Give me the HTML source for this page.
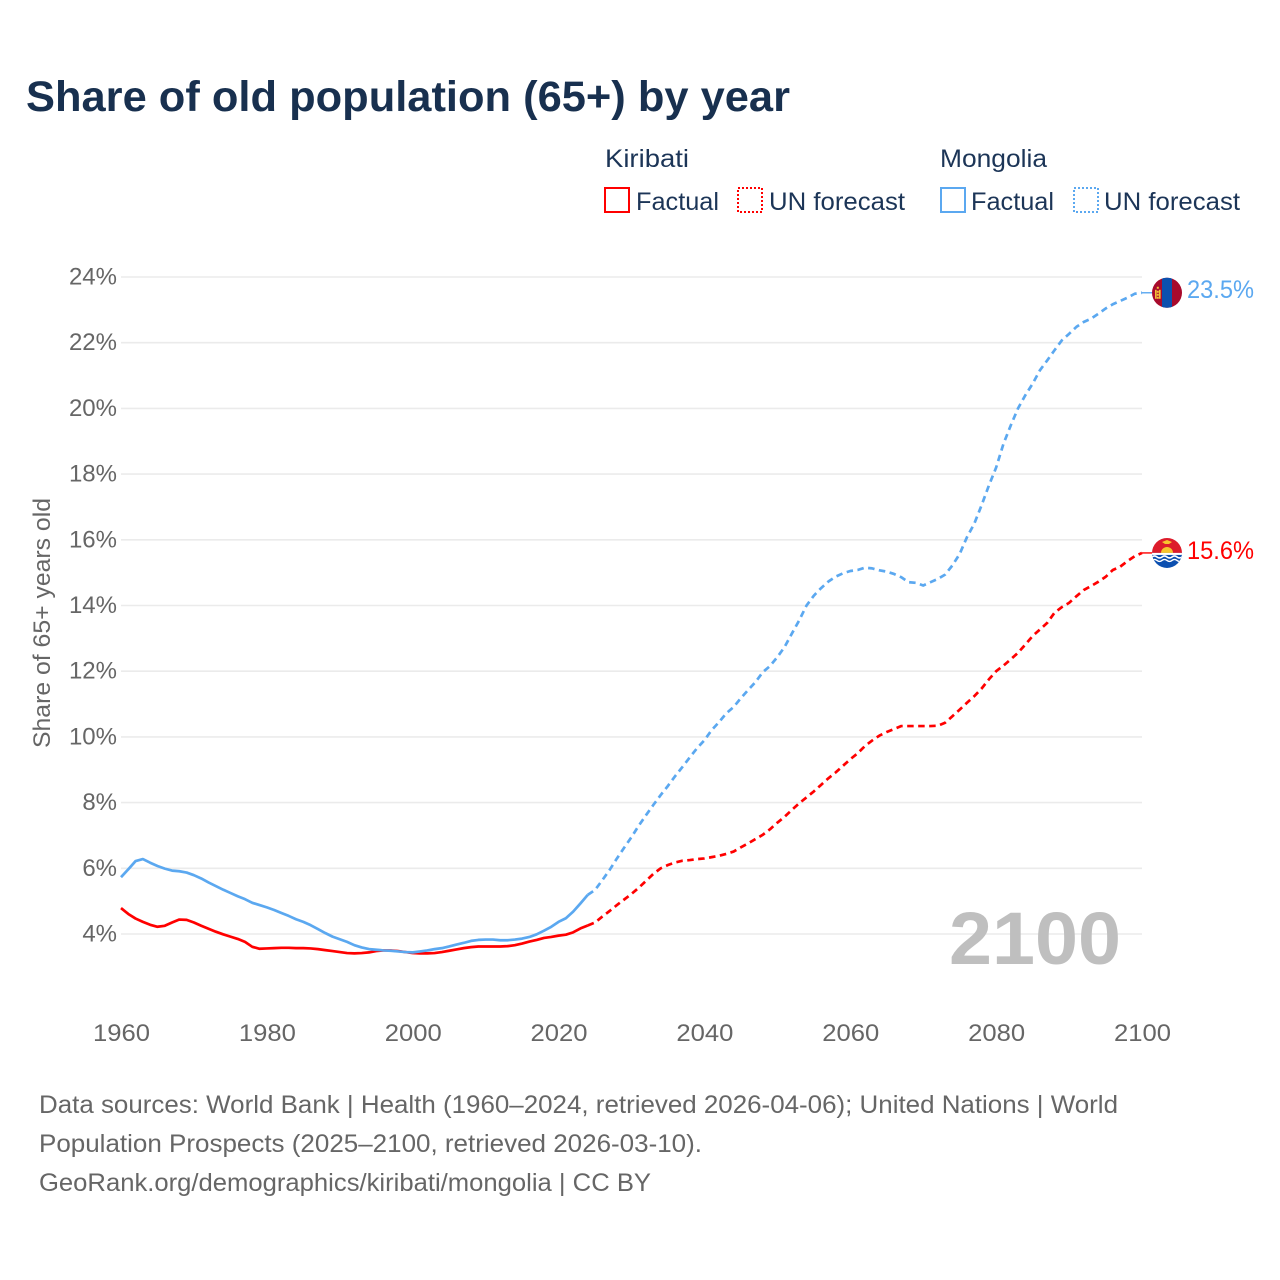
<!DOCTYPE html>
<html lang="en">
<head>
<meta charset="utf-8">
<title>Share of old population (65+) by year</title>
<style>
html,body{margin:0;padding:0;background:#fff;}
svg{display:block;font-family:"Liberation Sans",sans-serif;}
</style>
</head>
<body>
<svg id="chart" width="1280" height="1280" viewBox="0 0 1280 1280" xmlns="http://www.w3.org/2000/svg">
  <defs>
    <clipPath id="clip-mn"><circle cx="0" cy="0" r="15"/></clipPath>
    <clipPath id="clip-ki"><circle cx="0" cy="0" r="15"/></clipPath>
  </defs>
  <rect width="1280" height="1280" fill="#fff"/>
  <text x="26" y="111" font-size="43" font-weight="700" fill="#18304f" textLength="764" lengthAdjust="spacingAndGlyphs">Share of old population (65+) by year</text>

  <g font-size="25" fill="#1c3557">
    <text x="605" y="167" textLength="84" lengthAdjust="spacingAndGlyphs">Kiribati</text>
    <rect x="605" y="188" width="24" height="24" fill="none" stroke="#ff0000" stroke-width="2"/>
    <text x="636" y="210" textLength="83" lengthAdjust="spacingAndGlyphs">Factual</text>
    <rect x="738" y="188" width="24" height="24" fill="none" stroke="#ff0000" stroke-width="2" stroke-dasharray="2 2"/>
    <text x="769" y="210" textLength="136" lengthAdjust="spacingAndGlyphs">UN forecast</text>
    <text x="940" y="167" textLength="107" lengthAdjust="spacingAndGlyphs">Mongolia</text>
    <rect x="941" y="188" width="24" height="24" fill="none" stroke="#5ba8f0" stroke-width="2"/>
    <text x="971" y="210" textLength="83" lengthAdjust="spacingAndGlyphs">Factual</text>
    <rect x="1074" y="188" width="24" height="24" fill="none" stroke="#5ba8f0" stroke-width="2" stroke-dasharray="2 2"/>
    <text x="1104" y="210" textLength="136" lengthAdjust="spacingAndGlyphs">UN forecast</text>
  </g>

  <g id="grid"></g>
  <g id="y-ticks"></g>
  <g id="x-ticks"></g>
  <text transform="translate(50,623) rotate(-90)" text-anchor="middle" font-size="24" fill="#666" textLength="250" lengthAdjust="spacingAndGlyphs">Share of 65+ years old</text>

  <text x="949" y="964" font-size="74" font-weight="700" fill="#bfbfbf" textLength="172" lengthAdjust="spacingAndGlyphs">2100</text>

  <g id="series"></g>

  <g id="flag-mn">
    <g clip-path="url(#clip-mn)">
      <rect x="-15" y="-16" width="30" height="32" fill="#a80a2c"/>
      <rect x="-5" y="-16" width="10" height="32" fill="#0b50ae"/>
      <rect x="-12" y="-3" width="1.6" height="9" fill="#f2c037"/>
      <rect x="-8" y="-3" width="1.6" height="9" fill="#f2c037"/>
      <rect x="-10.2" y="-6" width="2" height="2" fill="#f2c037"/>
      <rect x="-10.2" y="-2" width="2" height="2" fill="#f2c037"/>
      <rect x="-10.2" y="1" width="2" height="2" fill="#f2c037"/>
      <rect x="-10.2" y="4" width="2" height="2" fill="#f2c037"/>
    </g>
  </g>
  <g id="flag-ki">
    <g clip-path="url(#clip-ki)">
      <rect x="-15" y="-16" width="30" height="16" fill="#dd1c2b"/>
      <path d="M-6 0 A6 6 0 0 1 6 0 Z" fill="#f7c52e"/>
      <path d="M-5 -11 L0 -13 L5 -11 L2 -9 L-2 -9 Z" fill="#f7c52e"/>
      <rect x="-15" y="0" width="30" height="16" fill="#0b4fb0"/>
      <rect x="-15" y="0" width="30" height="2" fill="#fff"/>
      <path d="M-15 4 q2.5 -2 5 0 t5 0 t5 0 t5 0 t5 0 t5 0" fill="none" stroke="#fff" stroke-width="1.6"/>
      <path d="M-15 7.5 q2.5 -2 5 0 t5 0 t5 0 t5 0 t5 0 t5 0" fill="none" stroke="#fff" stroke-width="1.4"/>
    </g>
  </g>
  <text id="label-mn" x="1187" font-size="25" fill="#5ba8f0" textLength="67" lengthAdjust="spacingAndGlyphs"></text>
  <text id="label-ki" x="1187" font-size="25" fill="#ff0000" textLength="67" lengthAdjust="spacingAndGlyphs"></text>

  <g font-size="25" fill="#666">
    <text x="39" y="1113" textLength="1079" lengthAdjust="spacingAndGlyphs">Data sources: World Bank | Health (1960–2024, retrieved 2026-04-06); United Nations | World</text>
    <text x="39" y="1152" textLength="663" lengthAdjust="spacingAndGlyphs">Population Prospects (2025–2100, retrieved 2026-03-10).</text>
    <text x="39" y="1191" textLength="612" lengthAdjust="spacingAndGlyphs">GeoRank.org/demographics/kiribati/mongolia | CC BY</text>
  </g>
</svg>
<script>
const yTickValues = [4, 6, 8, 10, 12, 14, 16, 18, 20, 22, 24];
const xTickValues = [1960, 1980, 2000, 2020, 2040, 2060, 2080, 2100];
const factualStartYear = 1960;
const forecastStartYear = 2024;

const kiribatiFactual = [4.79,4.61,4.47,4.37,4.28,4.22,4.25,4.35,4.44,4.43,
  4.35,4.25,4.16,4.07,3.99,3.92,3.85,3.76,3.61,3.55,
  3.56,3.57,3.58,3.58,3.57,3.57,3.56,3.54,3.51,3.48,
  3.45,3.42,3.41,3.42,3.44,3.48,3.50,3.50,3.48,3.45,
  3.42,3.41,3.41,3.42,3.45,3.49,3.53,3.57,3.60,3.62,
  3.62,3.62,3.62,3.63,3.66,3.71,3.77,3.82,3.88,3.91,
  3.95,3.98,4.05,4.17,4.26];

const mongoliaFactual = [5.73,5.97,6.22,6.28,6.17,6.07,5.99,5.93,5.91,5.87,
  5.79,5.69,5.57,5.46,5.35,5.25,5.15,5.06,4.95,4.88,
  4.81,4.73,4.64,4.55,4.45,4.37,4.27,4.15,4.03,3.92,
  3.84,3.76,3.66,3.59,3.54,3.52,3.50,3.49,3.47,3.45,
  3.44,3.47,3.50,3.54,3.57,3.62,3.68,3.73,3.79,3.82,
  3.83,3.83,3.81,3.81,3.83,3.86,3.91,3.99,4.10,4.22,
  4.37,4.48,4.68,4.93,5.19];

const kiribatiForecast = [4.26,4.35,4.53,4.70,4.88,5.05,5.22,5.41,5.62,5.83,6.00,
  6.10,6.18,6.23,6.25,6.28,6.30,6.34,6.38,6.44,6.51,
  6.64,6.76,6.89,7.02,7.19,7.39,7.57,7.78,7.98,8.16,
  8.34,8.54,8.74,8.92,9.12,9.32,9.50,9.72,9.89,10.04,
  10.15,10.24,10.33,10.33,10.33,10.33,10.33,10.34,10.43,10.63,
  10.83,11.04,11.24,11.47,11.75,12.00,12.17,12.36,12.56,12.81,
  13.07,13.27,13.47,13.78,13.95,14.08,14.28,14.47,14.59,14.72,
  14.87,15.08,15.18,15.35,15.50,15.60];

const mongoliaForecast = [5.19,5.34,5.64,5.95,6.30,6.63,6.95,7.30,7.62,7.93,8.23,
  8.51,8.81,9.09,9.38,9.66,9.90,10.21,10.45,10.72,10.91,
  11.18,11.43,11.67,11.97,12.16,12.43,12.74,13.15,13.55,14.00,
  14.30,14.53,14.73,14.88,14.98,15.05,15.08,15.15,15.13,15.07,
  15.03,14.96,14.86,14.71,14.69,14.61,14.71,14.81,14.94,15.22,
  15.57,16.08,16.49,17.05,17.65,18.20,18.92,19.48,20.00,20.40,
  20.75,21.16,21.46,21.77,22.07,22.27,22.48,22.63,22.73,22.88,
  23.04,23.17,23.27,23.37,23.49,23.52];

const NS = 'http://www.w3.org/2000/svg';
const RED = '#ff0000';
const BLUE = '#5ba8f0';
function xScale(year) { return 121 + (year - 1960) * (1142 - 121) / 140; }
function yScale(v) { return 934 - (v - 4) * (934 - 277) / 20; }
function toPoints(values, startYear) {
  return values.map(function (v, i) { return xScale(startYear + i).toFixed(2) + ',' + yScale(v).toFixed(2); }).join(' ');
}
function makeLine(values, startYear, color, dashed) {
  const el = document.createElementNS(NS, 'polyline');
  el.setAttribute('points', toPoints(values, startYear));
  el.setAttribute('fill', 'none');
  el.setAttribute('stroke', color);
  el.setAttribute('stroke-width', '2.7');
  el.setAttribute('stroke-linejoin', 'round');
  if (dashed) el.setAttribute('stroke-dasharray', '6.5 4.5');
  return el;
}

const grid = document.getElementById('grid');
const yTicks = document.getElementById('y-ticks');
yTickValues.forEach(function (v) {
  const line = document.createElementNS(NS, 'line');
  
  
  line.setAttribute('x1', xScale(1960));
  line.setAttribute('x2', xScale(2100));
  line.setAttribute('y1', yScale(v));
  line.setAttribute('y2', yScale(v));
  line.setAttribute('stroke', '#ebebeb');
  line.setAttribute('stroke-width', '1.6');
  grid.appendChild(line);
  const label = document.createElementNS(NS, 'text');
  
  
  label.setAttribute('x', 117);
  label.setAttribute('y', yScale(v) + 7.5);
  label.setAttribute('text-anchor', 'end');
  label.setAttribute('font-size', '24');
  label.setAttribute('fill', '#666');
  label.textContent = v + '%';
  yTicks.appendChild(label);
});

const xTicks = document.getElementById('x-ticks');
xTickValues.forEach(function (year) {
  const label = document.createElementNS(NS, 'text');
  
  
  label.setAttribute('x', xScale(year) + 0.5);
  label.setAttribute('y', 1041);
  label.setAttribute('text-anchor', 'middle');
  label.setAttribute('font-size', '24');
  label.setAttribute('fill', '#666');
  label.setAttribute('textLength', '57');
  label.setAttribute('lengthAdjust', 'spacingAndGlyphs');
  label.textContent = year;
  xTicks.appendChild(label);
});

const series = document.getElementById('series');

const kiF = makeLine(kiribatiFactual, factualStartYear, RED, false);


series.appendChild(kiF);

const kiU = makeLine(kiribatiForecast, forecastStartYear, RED, true);


series.appendChild(kiU);

const mnF = makeLine(mongoliaFactual, factualStartYear, BLUE, false);


series.appendChild(mnF);

const mnU = makeLine(mongoliaForecast, forecastStartYear, BLUE, true);


series.appendChild(mnU);

const kiLast = kiribatiForecast[kiribatiForecast.length - 1];
const mnLast = mongoliaForecast[mongoliaForecast.length - 1];

const kiStub = document.createElementNS(NS, 'line');


kiStub.setAttribute('x1', xScale(2100));
kiStub.setAttribute('x2', xScale(2100) + 10);
kiStub.setAttribute('y1', yScale(kiLast));
kiStub.setAttribute('y2', yScale(kiLast));
kiStub.setAttribute('stroke', RED);
kiStub.setAttribute('stroke-width', '1.4');
series.appendChild(kiStub);

const mnStub = document.createElementNS(NS, 'line');


mnStub.setAttribute('x1', xScale(2100));
mnStub.setAttribute('x2', xScale(2100) + 10);
mnStub.setAttribute('y1', yScale(mnLast));
mnStub.setAttribute('y2', yScale(mnLast));
mnStub.setAttribute('stroke', BLUE);
mnStub.setAttribute('stroke-width', '1.4');
series.appendChild(mnStub);

document.getElementById('flag-mn').setAttribute('transform', 'translate(1167,' + yScale(mnLast).toFixed(2) + ')');
document.getElementById('flag-ki').setAttribute('transform', 'translate(1167,' + yScale(kiLast).toFixed(2) + ')');

const labelMn = document.getElementById('label-mn');
labelMn.setAttribute('y', yScale(mnLast) + 5);
labelMn.textContent = mnLast.toFixed(1) + '%';
const labelKi = document.getElementById('label-ki');
labelKi.setAttribute('y', yScale(kiLast) + 6);
labelKi.textContent = kiLast.toFixed(1) + '%';
</script>
</body>
</html>
